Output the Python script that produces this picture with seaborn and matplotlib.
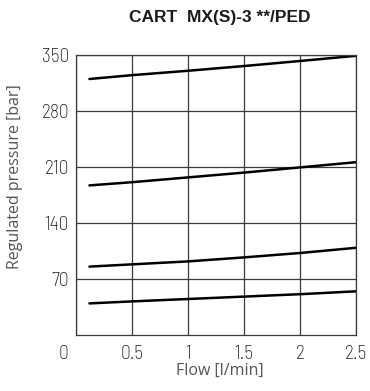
import matplotlib
matplotlib.use("Agg")
import matplotlib.pyplot as plt
import matplotlib.transforms as mtransforms
import seaborn as sns
import pandas as pd

# Regulation curves: pressure rise with flow for four spring settings
flow = [0.12, 0.5, 1.0, 1.5, 2.0, 2.5]
p_350 = [320, 324.8, 330.3, 336.2, 342.5, 349]
p_210 = [187, 191, 197, 203, 209.5, 216]
p_105 = [85.5, 88.3, 92, 97, 102.5, 109]
p_55 = [39.5, 42, 45, 48, 51, 54.6]

x_ticks = [0, 0.5, 1, 1.5, 2, 2.5]
x_tick_labels = ["0", "0.5", "1", "1.5", "2", "2.5"]
y_ticks = [70, 140, 210, 280, 350]
y_tick_labels = ["70", "140", "210", "280", "350"]

rows = []
for name, vals in [("350", p_350), ("210", p_210), ("105", p_105), ("55", p_55)]:
    for f, p in zip(flow, vals):
        rows.append({"flow": f, "pressure": p, "setting": name})
df = pd.DataFrame(rows)

sns.set_theme(style="white")
plt.rcParams["font.family"] = ["Liberation Sans", "DejaVu Sans"]

W, H = 370, 391
fig = plt.figure(figsize=(W / 100, H / 100), dpi=100)
ax = fig.add_axes([76 / W, 1 - 335 / H, 280 / W, 280 / H])

sns.lineplot(data=df, x="flow", y="pressure", units="setting", estimator=None,
             color="black", linewidth=1.8, ax=ax, legend=False)

ax.set_xlim(0, 2.5)
ax.set_ylim(0, 350)
ax.set_xticks(x_ticks)
ax.set_xticklabels(x_tick_labels)
ax.set_yticks(y_ticks)
ax.set_yticklabels(y_tick_labels)

grid_c = "#3a3a3a"
ax.grid(True, color=grid_c, linewidth=0.9)
for s in ax.spines.values():
    s.set_visible(True)
    s.set_color(grid_c)
    s.set_linewidth(0.9)

tick_font = ["Barlow Semi Condensed", "DejaVu Sans"]
ax.tick_params(axis="x", length=0, pad=7, labelsize=14, colors="#1a1a1a")
ax.tick_params(axis="y", length=0, pad=5, labelsize=14, colors="#1a1a1a")
for lab in ax.get_xticklabels() + ax.get_yticklabels():
    lab.set_family(tick_font)
    lab.set_fontweight(275)
# the origin label sits left of the corner
x0 = ax.get_xticklabels()[0]
x0.set_transform(x0.get_transform() + mtransforms.ScaledTranslation(-13 / 100, 0, fig.dpi_scale_trans))

label_font = ["Open Sans", "DejaVu Sans"]
ax.set_xlabel("Flow [l/min]", fontsize=11.5, color="#555555", family=label_font)
ax.xaxis.label.set_va("center")
ax.xaxis.set_label_coords((219.5 - 76) / 280, (335 - 371) / 280)
ax.set_ylabel("Regulated pressure [bar]", fontsize=11.5, color="#555555", family=label_font)
ax.yaxis.label.set_va("center")
ax.yaxis.set_label_coords((15 - 76) / 280, (335 - 177) / 280)

fig.text(220 / W, 1 - 17.5 / H, "CART  MX(S)-3 **/PED", fontsize=12.5, fontweight="bold",
         color="#1a1a1a", ha="center", va="center")

fig.savefig("out.png", dpi=100)
